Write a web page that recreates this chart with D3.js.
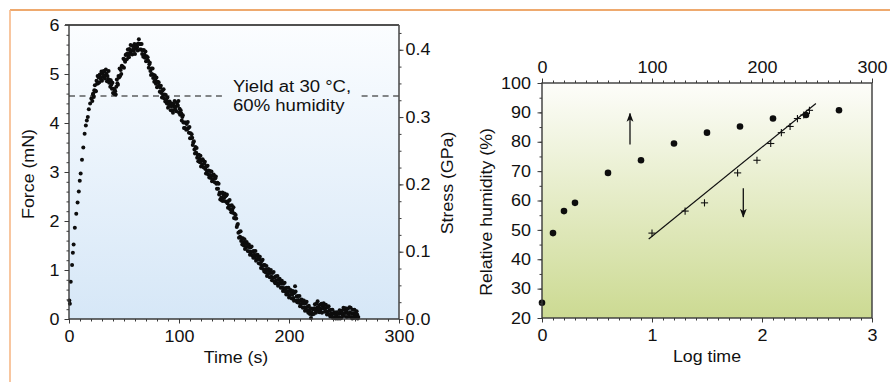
<!DOCTYPE html>
<html><head><meta charset="utf-8">
<script src="https://cdn.jsdelivr.net/npm/d3@7"></script>
<style>
html,body{margin:0;padding:0;background:#fff;}
svg{display:block;font-family:"Liberation Sans",Arial,Helvetica,sans-serif;}
</style></head><body>
<svg id="chart" width="890" height="382"></svg>
<script>
// ---------- Panel a: force vs time ----------
const forcePoints = [
[0.3,0.38],[0.8,0.31],[1.6,0.76],[2.8,1.1],[3.5,1.35],[4.2,1.52],[5.3,1.86],[6.6,2.15],[7.8,2.38],[8.9,2.6],[9.8,2.82],[10.6,2.97],[11.8,3.25],[13.0,3.5],[14.2,3.78],[15.3,3.95],[16.2,4.05],[17.1,4.12],[18.0,4.28],[19.2,4.4],[20.3,4.5],[21.2,4.45],[21.8,4.58],
[22,4.60],[22.5,4.53],[23,4.67],[23.5,4.77],[24,4.66],[24.5,4.65],[25,4.86],[25.5,4.80],[26,4.96],[26.5,4.81],[27,4.93],[27.5,4.83],[28,4.99],[28.5,4.93],[29,4.90],[29.5,5.05],[30,4.86],[30.5,5.00],[31,4.94],[31.5,5.06],
[32,5.05],[32.5,4.91],[33,4.97],[33.5,5.09],[34,5.01],[34.5,4.85],[35,4.96],[35.5,4.90],[36,5.06],[36.5,4.82],[37,4.88],[37.5,4.74],[38,4.87],[38.5,4.78],[39,4.70],[39.5,4.82],[40,4.61],[40.5,4.70],[41,4.59],[41.5,4.68],
[42,4.65],[42.5,4.58],[43,4.74],[43.5,4.89],[44,4.81],[44.5,4.78],[45,4.96],[45.5,4.93],[46,5.11],[46.5,4.96],[47,5.08],[47.5,5.00],[48,5.17],[48.5,5.15],[49,5.15],[49.5,5.31],[50,5.13],[50.5,5.29],[51,5.25],[51.5,5.39],
[52,5.40],[52.5,5.30],[53,5.42],[53.5,5.50],[54,5.38],[54.5,5.34],[55,5.51],[55.5,5.44],[56,5.59],[56.5,5.41],[57,5.48],[57.5,5.40],[58,5.57],[58.5,5.51],[59,5.47],[59.5,5.61],[60,5.41],[60.5,5.56],[61,5.52],[61.5,5.60],
[62,5.55],[62.5,5.48],[63,5.62],[63.5,5.71],[64,5.61],[64.5,5.50],[65,5.61],[65.5,5.50],[66,5.61],[66.5,5.41],[67,5.48],[67.5,5.35],[68,5.49],[68.5,5.40],[69,5.33],[69.5,5.46],[70,5.26],[70.5,5.36],[71,5.27],[71.5,5.34],
[72,5.27],[72.5,5.13],[73,5.20],[73.5,5.23],[74,5.06],[74.5,4.98],[75,5.11],[75.5,5.00],[76,5.11],[76.5,4.92],[77,4.98],[77.5,4.84],[78,4.97],[78.5,4.87],[79,4.80],[79.5,4.93],[80,4.73],[80.5,4.84],[81,4.75],[81.5,4.83],
[82,4.77],[82.5,4.64],[83,4.72],[83.5,4.76],[84,4.61],[84.5,4.52],[85,4.66],[85.5,4.57],[86,4.69],[86.5,4.50],[87,4.58],[87.5,4.44],[88,4.57],[88.5,4.48],[89,4.40],[89.5,4.52],[90,4.31],[90.5,4.43],[91,4.35],[91.5,4.44],
[92,4.40],[92.5,4.26],[93,4.34],[93.5,4.40],[94,4.26],[94.5,4.21],[95,4.39],[95.5,4.33],[96,4.45],[96.5,4.28],[97,4.33],[97.5,4.24],[98,4.42],[98.5,4.37],[99,4.35],[99.5,4.45],[100,4.21],[100.5,4.29],[101,4.17],[101.5,4.26],
[102,4.20],[102.5,4.05],[103,4.12],[103.5,4.16],[104,4.01],[104.5,3.90],[105,4.01],[105.5,3.90],[106,4.01],[106.5,3.86],[107,3.98],[107.5,3.87],[108,4.02],[108.5,3.90],[109,3.80],[109.5,3.92],[110,3.69],[110.5,3.79],[111,3.69],[111.5,3.77],
[112,3.70],[112.5,3.55],[113,3.60],[113.5,3.63],[114,3.46],[114.5,3.38],[115,3.51],[115.5,3.40],[116,3.49],[116.5,3.29],[117,3.35],[117.5,3.22],[118,3.35],[118.5,3.27],[119,3.20],[119.5,3.33],[120,3.11],[120.5,3.23],[121,3.15],[121.5,3.26],
[122,3.23],[122.5,3.09],[123,3.17],[123.5,3.21],[124,3.06],[124.5,2.97],[125,3.11],[125.5,3.01],[126,3.13],[126.5,2.95],[127,3.03],[127.5,2.89],[128,3.02],[128.5,2.94],[129,2.88],[129.5,3.01],[130,2.81],[130.5,2.93],[131,2.85],[131.5,2.95],
[132,2.92],[132.5,2.79],[133,2.87],[133.5,2.91],[134,2.76],[134.5,2.66],[135,2.78],[135.5,2.66],[136,2.76],[136.5,2.54],[137,2.58],[137.5,2.44],[138,2.57],[138.5,2.48],[139,2.42],[139.5,2.58],[140,2.41],[140.5,2.54],[141,2.47],[141.5,2.56],
[142,2.50],[142.5,2.40],[143,2.52],[143.5,2.54],[144,2.36],[144.5,2.27],[145,2.41],[145.5,2.31],[146,2.43],[146.5,2.24],[147,2.31],[147.5,2.18],[148,2.32],[148.5,2.23],[149,2.17],[149.5,2.28],[150,2.06],[150.5,2.15],[151,2.05],[151.5,2.12],
[152,2.05],[152.5,1.88],[153,1.92],[153.5,1.94],[154,1.76],[154.5,1.66],[155,1.78],[155.5,1.68],[156,1.79],[156.5,1.59],[157,1.65],[157.5,1.52],[158,1.65],[158.5,1.56],[159,1.50],[159.5,1.63],[160,1.43],[160.5,1.55],[161,1.47],[161.5,1.57],
[162,1.53],[162.5,1.39],[163,1.47],[163.5,1.52],[164,1.38],[164.5,1.31],[165,1.46],[165.5,1.36],[166,1.48],[166.5,1.30],[167,1.38],[167.5,1.25],[168,1.39],[168.5,1.31],[169,1.25],[169.5,1.39],[170,1.19],[170.5,1.30],[171,1.22],[171.5,1.31],
[172,1.27],[172.5,1.14],[173,1.22],[173.5,1.27],[174,1.12],[174.5,1.04],[175,1.18],[175.5,1.09],[176,1.21],[176.5,1.02],[177,1.10],[177.5,0.97],[178,1.10],[178.5,1.01],[179,0.95],[179.5,1.08],[180,0.88],[180.5,1.00],[181,0.92],[181.5,1.02],
[182,0.98],[182.5,0.85],[183,0.94],[183.5,1.00],[184,0.86],[184.5,0.79],[185,0.94],[185.5,0.84],[186,0.96],[186.5,0.77],[187,0.85],[187.5,0.73],[188,0.87],[188.5,0.79],[189,0.73],[189.5,0.88],[190,0.68],[190.5,0.80],[191,0.72],[191.5,0.82],
[192,0.77],[192.5,0.64],[193,0.72],[193.5,0.78],[194,0.64],[194.5,0.57],[195,0.72],[195.5,0.63],[196,0.74],[196.5,0.56],[197,0.63],[197.5,0.50],[198,0.64],[198.5,0.56],[199,0.50],[199.5,0.64],[200,0.44],[200.5,0.57],[201,0.49],[201.5,0.59],
[202,0.55],[202.5,0.42],[203,0.50],[203.5,0.57],[204,0.43],[204.5,0.37],[205,0.53],[205.5,0.67],[206,0.56],[206.5,0.38],[207,0.46],[207.5,0.34],[208,0.47],[208.5,0.39],[209,0.33],[209.5,0.47],[210,0.26],[210.5,0.38],[211,0.30],[211.5,0.40],
[212,0.36],[212.5,0.23],[213,0.32],[213.5,0.38],[214,0.24],[214.5,0.17],[215,0.32],[215.5,0.23],[216,0.35],[216.5,0.17],[217,0.25],[217.5,0.13],[218,0.27],[218.5,0.18],[219,0.10],[219.5,0.22],[220,0.02],[220.5,0.14],[221,0.09],[221.5,0.21],
[222,0.20],[222.5,0.10],[223,0.22],[223.5,0.30],[224,0.18],[224.5,0.13],[225,0.31],[225.5,0.23],[226,0.36],[226.5,0.18],[227,0.25],[227.5,0.14],[228,0.29],[228.5,0.21],[229,0.15],[229.5,0.31],[230,0.13],[230.5,0.27],[231,0.22],[231.5,0.32],
[232,0.28],[232.5,0.15],[233,0.22],[233.5,0.29],[234,0.16],[234.5,0.09],[235,0.24],[235.5,0.15],[236,0.26],[236.5,0.09],[237,0.18],[237.5,0.05],[238,0.19],[238.5,0.11],[239,0.05],[239.5,0.19],[240,0.02],[240.5,0.11],[241,0.03],[241.5,0.14],
[242,0.10],[242.5,0.01],[243,0.07],[243.5,0.14],[244,0.02],[244.5,0.01],[245,0.11],[245.5,0.04],[246,0.18],[246.5,0.01],[247,0.11],[247.5,0.02],[248,0.17],[248.5,0.11],[249,0.07],[249.5,0.23],[250,0.06],[250.5,0.19],[251,0.12],[251.5,0.22],
[252,0.17],[252.5,0.04],[253,0.12],[253.5,0.21],[254,0.11],[254.5,0.05],[255,0.24],[255.5,0.14],[256,0.23],[256.5,0.04],[257,0.11],[257.5,0.01],[258,0.19],[258.5,0.11],[259,0.05],[259.5,0.19],[260,0.02],[260.5,0.12],[261,0.07],[261.5,0.16],
[262,0.09],[262.5,0.01],[263,0.04]
];
const forceTicks = [0, 1, 2, 3, 4, 5, 6];
const stressTicks = [0, 0.1, 0.2, 0.3, 0.4];
const stressTickLabels = ["0.0", "0.1", "0.2", "0.3", "0.4"];
const timeTicks = [0, 100, 200, 300];
const stressPerForce = 0.0728;          // GPa per mN
const yieldForce = 4.55;
const yieldGap = [139, 266];            // time range left free for the label
const yieldLabel = ["Yield at 30 \u00B0C,", "60% humidity"];

// ---------- Panel b: humidity ----------
const humidityTime = [0, 10, 20, 30, 60, 90, 120, 150, 180, 210, 240, 270];
const humidityValue = [25.2, 48.9, 56.4, 59.2, 69.4, 73.7, 79.4, 83.1, 85.2, 87.9, 89.1, 90.7];
const fitLogTime = [0.97, 2.49];
const fitHumidity = [46.9, 93.0];
const arrowUp = {logTime: 0.8, from: 79.1, to: 89.6};
const arrowDown = {logTime: 1.83, from: 64.2, to: 54.4};
const humidityTicks = [20, 30, 40, 50, 60, 70, 80, 90, 100];
const logTimeTicks = [0, 1, 2, 3];
const topTimeTicks = [0, 100, 200, 300];

// ---------- drawing ----------
const svg = d3.select("#chart");
const FONT = 16, STRETCH = 1.11;
const axisColor = "#3a3a3a";
const textColor = "#111";

function stretch(sel, k) {
  sel.each(function () {
    const w = this.getComputedTextLength();
    if (w > 0) {
      this.setAttribute("textLength", (w * k).toFixed(2));
      this.setAttribute("lengthAdjust", "spacingAndGlyphs");
    }
  });
}
function styleAxis(g) {
  g.select(".domain").remove();
  g.selectAll("line").attr("stroke", axisColor).attr("stroke-width", 1);
  g.selectAll("text").attr("font-size", FONT).attr("fill", textColor)
   .attr("font-family", '"Liberation Sans",Arial,sans-serif');
}

// frame lines
svg.append("line").attr("x1", 10).attr("x2", 890).attr("y1", 10).attr("y2", 10)
  .attr("stroke", "#e98c3e").attr("stroke-width", 1.6);
svg.append("line").attr("x1", 10).attr("x2", 10).attr("y1", 10).attr("y2", 382)
  .attr("stroke", "#f7b888").attr("stroke-width", 1.6);

const defs = svg.append("defs");
const gA = defs.append("linearGradient").attr("id", "gradA").attr("x1", 0).attr("x2", 0).attr("y1", 0).attr("y2", 1);
gA.append("stop").attr("offset", "0%").attr("stop-color", "#fbfdff");
gA.append("stop").attr("offset", "100%").attr("stop-color", "#d6e7f7");
const gB = defs.append("linearGradient").attr("id", "gradB").attr("x1", 0).attr("x2", 0).attr("y1", 0).attr("y2", 1);
gB.append("stop").attr("offset", "0%").attr("stop-color", "#fdfdfa");
gB.append("stop").attr("offset", "100%").attr("stop-color", "#ccda92");
defs.append("marker").attr("id", "arrowHead").attr("viewBox", "0 0 10 10")
  .attr("refX", 9).attr("refY", 5).attr("markerWidth", 9).attr("markerHeight", 9)
  .attr("markerUnits", "userSpaceOnUse").attr("orient", "auto")
  .append("path").attr("d", "M0,1.2 L10,5 L0,8.8 L2.5,5 Z").attr("fill", "#111");

// ===== Panel A =====
const A = {x0: 69, x1: 399, y0: 25, y1: 319};
const xA = d3.scaleLinear().domain([0, 300]).range([A.x0, A.x1]);
const yA = d3.scaleLinear().domain([0, 6]).range([A.y1, A.y0]);
const yS = d3.scaleLinear().domain([0, 6 * stressPerForce]).range([A.y1, A.y0]);

svg.append("rect").attr("x", A.x0).attr("y", A.y0).attr("width", A.x1 - A.x0).attr("height", A.y1 - A.y0)
  .attr("fill", "url(#gradA)");

// dashed yield line in two parts
[[0, yieldGap[0]], [yieldGap[1], 300]].forEach(([a, b]) => {
  svg.append("line").attr("x1", xA(a)).attr("x2", xA(b)).attr("y1", yA(yieldForce)).attr("y2", yA(yieldForce))
    .attr("stroke", "#111").attr("stroke-width", 1.1).attr("stroke-dasharray", "6,4.5");
});
const yl = svg.append("g").attr("font-size", FONT).attr("fill", textColor);
yieldLabel.forEach((s, i) => {
  yl.append("text").attr("x", 233).attr("y", 92 + i * 18.5).text(s);
});
stretch(yl.selectAll("text"), 1.16);

// dots
svg.append("g").selectAll("circle").data(forcePoints).join("circle")
  .attr("cx", d => xA(d[0])).attr("cy", d => yA(d[1])).attr("r", 2.0).attr("fill", "#0d0d0d");

// axes A
const axLmin = svg.append("g").attr("transform", `translate(${A.x0},0)`)
  .call(d3.axisLeft(yA).tickValues(d3.range(0, 6.001, 0.2)).tickSize(2.5).tickFormat(""));
styleAxis(axLmin);
const axL = svg.append("g").attr("transform", `translate(${A.x0},0)`)
  .call(d3.axisLeft(yA).tickValues(forceTicks).tickSize(4.5).tickPadding(5).tickFormat(d3.format("d")));
styleAxis(axL);
const axRmin = svg.append("g").attr("transform", `translate(${A.x1},0)`)
  .call(d3.axisRight(yS).tickValues(d3.range(0, 0.4251, 0.025)).tickSize(2.5).tickFormat(""));
styleAxis(axRmin);
const axR = svg.append("g").attr("transform", `translate(${A.x1},0)`)
  .call(d3.axisRight(yS).tickValues(stressTicks).tickSize(4.5).tickPadding(2).tickFormat((d, i) => stressTickLabels[i]));
styleAxis(axR);
const axBmin = svg.append("g").attr("transform", `translate(0,${A.y1})`)
  .call(d3.axisBottom(xA).tickValues(d3.range(0, 300.1, 10)).tickSize(2.5).tickFormat(""));
styleAxis(axBmin);
const axB = svg.append("g").attr("transform", `translate(0,${A.y1})`)
  .call(d3.axisBottom(xA).tickValues(timeTicks).tickSize(4.5).tickPadding(7.5).tickFormat(d3.format("d")));
styleAxis(axB);

// frame lines A
svg.append("line").attr("x1", A.x0 - 4).attr("x2", A.x1).attr("y1", A.y0).attr("y2", A.y0).attr("stroke", "#505050").attr("stroke-width", 2);
svg.append("line").attr("x1", A.x0).attr("x2", A.x0).attr("y1", A.y0).attr("y2", A.y1).attr("stroke", axisColor).attr("stroke-width", 1.4);
svg.append("line").attr("x1", A.x1).attr("x2", A.x1).attr("y1", A.y0).attr("y2", A.y1).attr("stroke", "#505050").attr("stroke-width", 1.6);
svg.append("line").attr("x1", A.x0).attr("x2", A.x1).attr("y1", A.y1).attr("y2", A.y1).attr("stroke", axisColor).attr("stroke-width", 1.4);

const titles = svg.append("g").attr("font-size", FONT).attr("fill", textColor).attr("text-anchor", "middle");
titles.append("text").attr("transform", "translate(33.5,174) rotate(-90)").text("Force (mN)");
titles.append("text").attr("transform", "translate(453,183) rotate(-90)").text("Stress (GPa)");
titles.append("text").attr("x", 236).attr("y", 363).text("Time (s)");

// ===== Panel B =====
const B = {x0: 542, x1: 872, y0: 83, y1: 318};
const xB = d3.scaleLinear().domain([0, 3]).range([B.x0, B.x1]);
const xT = d3.scaleLinear().domain([0, 300]).range([B.x0, B.x1]);
const yB = d3.scaleLinear().domain([20, 100]).range([B.y1, B.y0]);

svg.append("rect").attr("x", B.x0).attr("y", B.y0).attr("width", B.x1 - B.x0).attr("height", B.y1 - B.y0)
  .attr("fill", "url(#gradB)");

// fit line
svg.append("line").attr("x1", xB(fitLogTime[0])).attr("y1", yB(fitHumidity[0]))
  .attr("x2", xB(fitLogTime[1])).attr("y2", yB(fitHumidity[1]))
  .attr("stroke", "#111").attr("stroke-width", 1.2);

// circles: humidity vs time (top axis)
svg.append("g").selectAll("circle").data(humidityTime.map((t, i) => [t, humidityValue[i]])).join("circle")
  .attr("cx", d => xT(d[0])).attr("cy", d => yB(d[1])).attr("r", 3.3).attr("fill", "#0d0d0d");

// crosses: humidity vs log time (bottom axis)
const crossData = humidityTime.map((t, i) => [t, humidityValue[i]]).filter(d => d[0] > 0);
const cr = svg.append("g").attr("stroke", "#111").attr("stroke-width", 1.1);
crossData.forEach(d => {
  const cx = xB(Math.log10(d[0])), cy = yB(d[1]);
  cr.append("line").attr("x1", cx - 3.6).attr("x2", cx + 3.6).attr("y1", cy).attr("y2", cy);
  cr.append("line").attr("x1", cx).attr("x2", cx).attr("y1", cy - 3.6).attr("y2", cy + 3.6);
});

// arrows
[arrowUp, arrowDown].forEach(a => {
  svg.append("line").attr("x1", xB(a.logTime)).attr("x2", xB(a.logTime))
    .attr("y1", yB(a.from)).attr("y2", yB(a.to))
    .attr("stroke", "#111").attr("stroke-width", 1.3).attr("marker-end", "url(#arrowHead)");
});

// axes B
const bLmin = svg.append("g").attr("transform", `translate(${B.x0},0)`)
  .call(d3.axisLeft(yB).tickValues(d3.range(20, 100.1, 5)).tickSize(2.5).tickFormat(""));
styleAxis(bLmin);
const bL = svg.append("g").attr("transform", `translate(${B.x0},0)`)
  .call(d3.axisLeft(yB).tickValues(humidityTicks).tickSize(4.5).tickPadding(6.5).tickFormat(d3.format("d")));
styleAxis(bL);
const bBmin = svg.append("g").attr("transform", `translate(0,${B.y1})`)
  .call(d3.axisBottom(xB).tickValues(d3.range(0, 3.001, 0.1)).tickSize(2.5).tickFormat(""));
styleAxis(bBmin);
const bB = svg.append("g").attr("transform", `translate(0,${B.y1})`)
  .call(d3.axisBottom(xB).tickValues(logTimeTicks).tickSize(4.5).tickPadding(7.5).tickFormat(d3.format("d")));
styleAxis(bB);
const bTmin = svg.append("g").attr("transform", `translate(0,${B.y0})`)
  .call(d3.axisTop(xT).tickValues(d3.range(0, 300.1, 10)).tickSize(2.5).tickFormat(""));
styleAxis(bTmin);
const bT = svg.append("g").attr("transform", `translate(0,${B.y0})`)
  .call(d3.axisTop(xT).tickValues(topTimeTicks).tickSize(4.5).tickPadding(5.5).tickFormat(d3.format("d")));
styleAxis(bT);

svg.append("rect").attr("x", B.x0).attr("y", B.y0).attr("width", B.x1 - B.x0).attr("height", B.y1 - B.y0)
  .attr("fill", "none").attr("stroke", axisColor).attr("stroke-width", 1.4);

titles.append("text").attr("transform", "translate(491.5,212) rotate(-90)").text("Relative humidity (%)");
titles.append("text").attr("x", 707).attr("y", 362).text("Log time");

stretch(svg.selectAll(".tick text"), 1.12);
stretch(titles.selectAll("text"), STRETCH);
</script>
</body></html>
